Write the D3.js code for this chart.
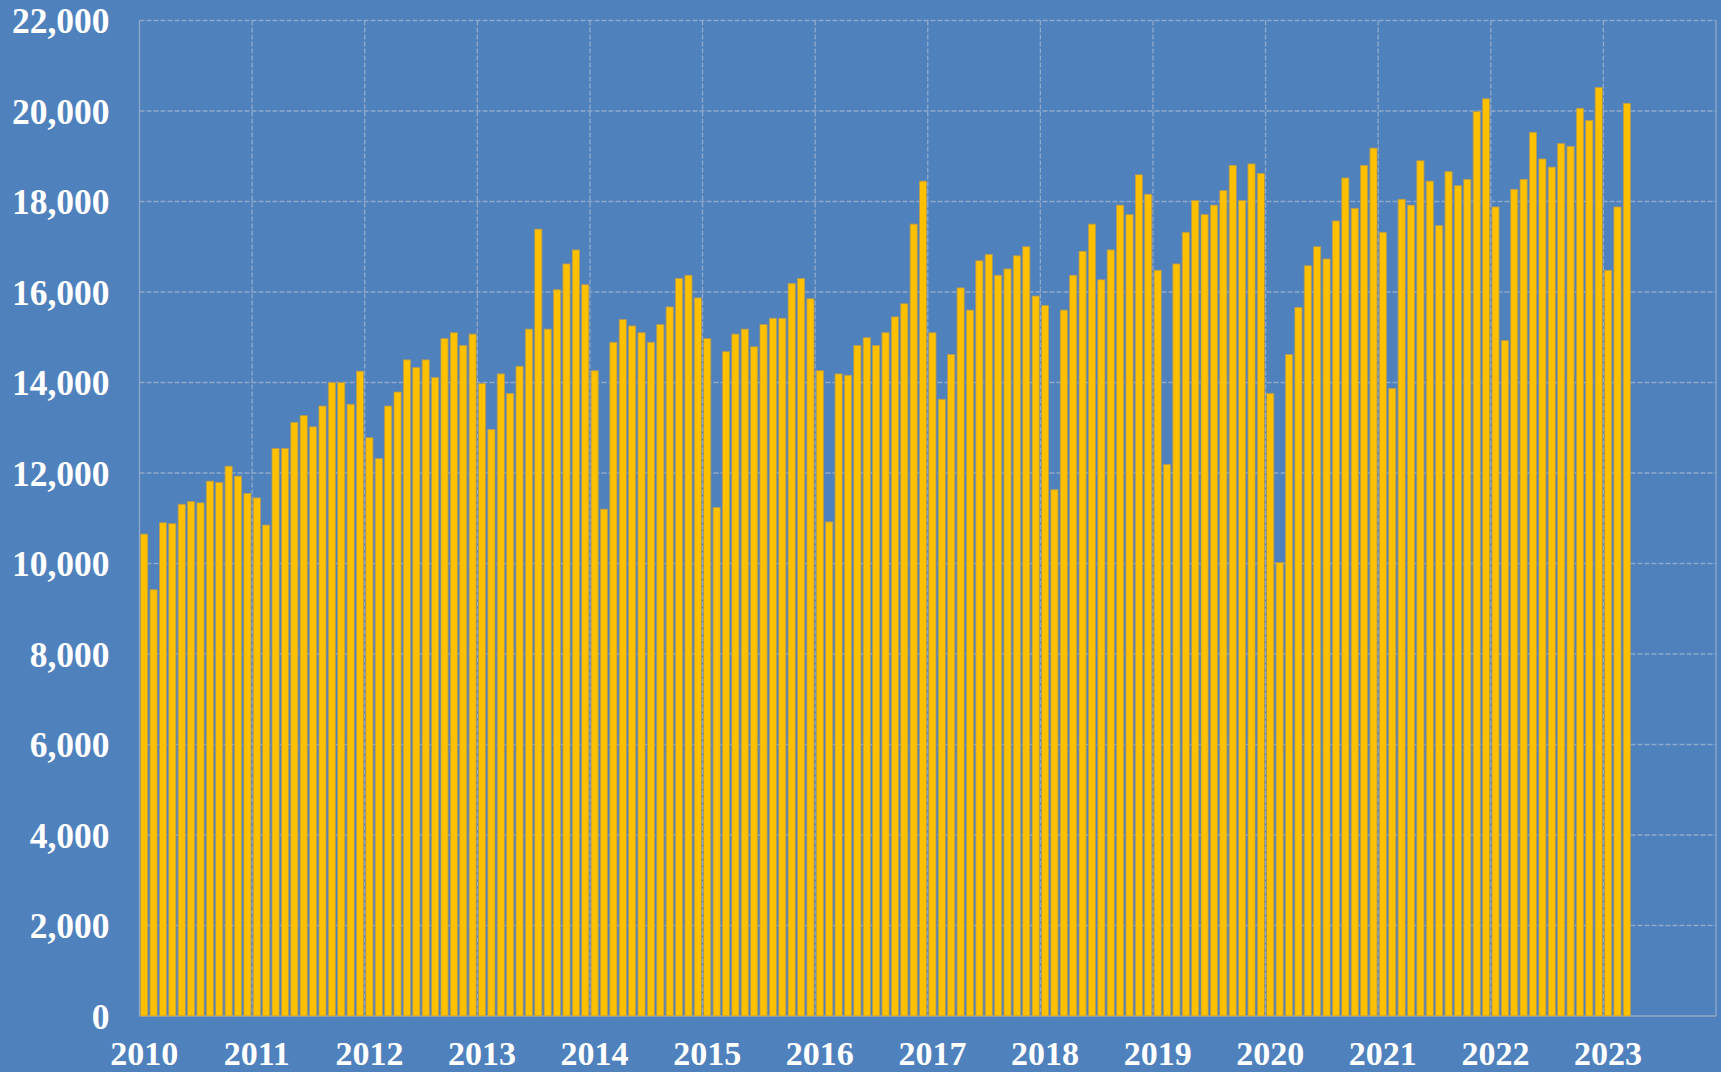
<!DOCTYPE html>
<html>
<head>
<meta charset="utf-8">
<script src="https://cdn.jsdelivr.net/npm/d3@7"></script>
<style>
  html, body { margin: 0; padding: 0; background: #4F81BD; }
  svg { display: block; }
</style>
</head>
<body>
<svg id="chart" width="1721" height="1072"></svg>
<script>
// ---- data ----
const years = ["2010","2011","2012","2013","2014","2015","2016","2017","2018","2019","2020","2021","2022","2023"];
const v2010 = [10650, 9420, 10900, 10880, 11310, 11370, 11340, 11820, 11790, 12150, 11930, 11550];
const v2011 = [11450, 10850, 12540, 12540, 13120, 13270, 13020, 13480, 14000, 14000, 13520, 14250];
const v2012 = [12780, 12320, 13480, 13790, 14500, 14330, 14500, 14110, 14970, 15100, 14820, 15070];
const v2013 = [13980, 12960, 14190, 13760, 14360, 15180, 17390, 15180, 16050, 16620, 16930, 16160];
const v2014 = [14260, 11200, 14890, 15390, 15250, 15100, 14890, 15280, 15670, 16300, 16370, 15870];
const v2015 = [14970, 11240, 14680, 15070, 15180, 14790, 15280, 15420, 15420, 16190, 16300, 15850];
const v2016 = [14260, 10920, 14190, 14160, 14820, 14990, 14820, 15100, 15450, 15740, 17500, 18450];
const v2017 = [15100, 13630, 14620, 16090, 15600, 16690, 16830, 16370, 16510, 16800, 17000, 15910];
const v2018 = [15700, 11630, 15600, 16370, 16900, 17500, 16270, 16930, 17920, 17710, 18590, 18160];
const v2019 = [16480, 12190, 16620, 17320, 18020, 17710, 17920, 18240, 18800, 18020, 18830, 18620];
const v2020 = [13760, 10020, 14620, 15660, 16580, 17000, 16730, 17570, 18520, 17850, 18800, 19180];
const v2021 = [17320, 13870, 18050, 17920, 18900, 18450, 17470, 18660, 18350, 18490, 19990, 20270];
const v2022 = [17880, 14930, 18270, 18490, 19530, 18940, 18760, 19280, 19220, 20060, 19790, 20520];
const v2023 = [16480, 17880, 20170];
const yearValues = [v2010, v2011, v2012, v2013, v2014, v2015, v2016, v2017, v2018, v2019, v2020, v2021, v2022, v2023];
const yTicks = [0, 2000, 4000, 6000, 8000, 10000, 12000, 14000, 16000, 18000, 20000, 22000];
const monthNames = ["01","02","03","04","05","06","07","08","09","10","11","12"];

(function () {
  const categories = [];
  years.forEach(yr => monthNames.forEach(m => categories.push(yr + "-" + m)));
  const data = [];
  years.forEach((yr, yi) => yearValues[yi].forEach((v, mi) => data.push({ key: yr + "-" + monthNames[mi], value: v })));

  const svg = d3.select("#chart");
  const W = 1721, H = 1072;
  const pLeft = 139.5, pRight = 1716, pTop = 20.5, pBottom = 1016;

  svg.append("rect").attr("x", 0).attr("y", 0).attr("width", W).attr("height", H).attr("fill", "#4F81BD");

  const x = d3.scaleBand().domain(categories).range([pLeft, pRight]).paddingInner(0.24).paddingOuter(0.12);
  const y = d3.scaleLinear().domain([0, 22000]).range([pBottom, pTop]);
  const step = x.step();
  const gapHalf = x.paddingInner() * step / 2;

  const gridColor = "#90A9CA";
  const grid = svg.append("g");
  grid.selectAll("line.h").data(yTicks).enter().append("line")
    .attr("x1", pLeft).attr("x2", pRight)
    .attr("y1", d => y(d)).attr("y2", d => y(d))
    .attr("stroke", gridColor).attr("stroke-width", 1.3)
    .attr("stroke-dasharray", d => d === 0 ? null : "5,2");
  const yearStarts = years.map(yr => x(yr + "-01") - gapHalf);
  yearStarts.push(pRight);
  grid.selectAll("line.v").data(yearStarts).enter().append("line")
    .attr("x1", d => d).attr("x2", d => d)
    .attr("y1", pTop).attr("y2", pBottom)
    .attr("stroke", gridColor).attr("stroke-width", 1.3)
    .attr("stroke-dasharray", (d, i) => (i === 0 || i === yearStarts.length - 1) ? null : "5,2");

  svg.append("g").selectAll("rect").data(data).enter().append("rect")
    .attr("x", d => x(d.key))
    .attr("width", x.bandwidth())
    .attr("y", d => y(d.value))
    .attr("height", d => pBottom - y(d.value))
    .attr("fill", "#FFC000")
    .attr("stroke", "#B39A55")
    .attr("stroke-width", 0.8);

  const fmt = d3.format(",");
  const yAxis = d3.axisLeft(y).tickValues(yTicks).tickFormat(fmt).tickSize(0).tickPadding(0);
  const ya = svg.append("g").attr("transform", `translate(${pLeft - 30},0)`).call(yAxis);
  ya.select(".domain").remove();
  ya.selectAll("text")
    .attr("fill", "#FFFFFF")
    .attr("font-family", "'Liberation Serif', 'Times New Roman', serif")
    .attr("font-weight", "bold")
    .attr("font-size", 35.5)
    .attr("dy", "0.34em");

  const xAxis = d3.axisBottom(x).tickValues(years.map(yr => yr + "-01")).tickFormat(d => d.slice(0, 4)).tickSize(0).tickPadding(0);
  const xa = svg.append("g").attr("transform", `translate(0,${pBottom})`).call(xAxis);
  xa.select(".domain").remove();
  xa.selectAll("text")
    .attr("fill", "#FFFFFF")
    .attr("font-family", "'Liberation Serif', 'Times New Roman', serif")
    .attr("font-weight", "bold")
    .attr("font-size", 34)
    .attr("y", 49)
    .attr("dy", 0);
})();
</script>
</body>
</html>
